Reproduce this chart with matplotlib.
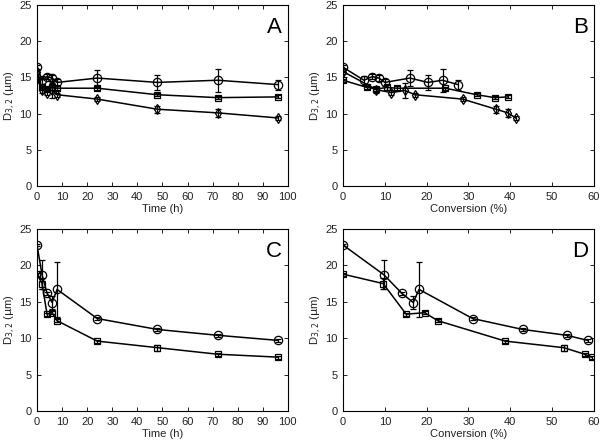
import numpy as np
import matplotlib.pyplot as plt

plt.rcParams['font.family'] = ['Liberation Sans', 'DejaVu Sans']

# panel A / B data (three series)
t_ab = [0, 2, 4, 6, 8, 24, 48, 72, 96]
circ_ab = [16.4, 14.6, 15.1, 14.9, 14.3, 14.9, 14.3, 14.6, 14.0]
circ_ab_err = [0.3, 0.6, 0.3, 0.4, 0.5, 1.1, 1.0, 1.6, 0.7]
circ_ab_conv = [0, 5.0, 7.0, 8.6, 10.0, 16.0, 20.3, 23.8, 27.5]

sq_ab = [14.6, 13.6, 13.4, 13.6, 13.5, 13.5, 12.6, 12.2, 12.3]
sq_ab_err = [0.2, 0.2, 0.3, 0.3, 0.3, 0.2, 0.2, 0.2, 0.2]
sq_ab_conv = [0, 5.8, 8.0, 10.5, 13.0, 24.5, 32.0, 36.3, 39.5]

dia_ab = [15.8, 13.3, 12.9, 13.2, 12.6, 12.0, 10.6, 10.1, 9.4]
dia_ab_err = [0.3, 0.4, 0.3, 1.0, 0.3, 0.3, 0.5, 0.6, 0.3]
dia_ab_conv = [0, 8.0, 11.5, 14.8, 17.2, 28.6, 36.6, 39.4, 41.3]

# panel C / D data (two series)
t_cd = [0, 2, 4, 6, 8, 24, 48, 72, 96]
circ_cd = [22.8, 18.7, 16.2, 14.9, 16.7, 12.7, 11.2, 10.4, 9.7]
circ_cd_err = [0.2, 2.0, 0.2, 0.9, 3.8, 0.2, 0.2, 0.2, 0.2]
circ_cd_conv = [0, 9.8, 14.0, 16.8, 18.2, 31.0, 43.0, 53.5, 58.5]

sq_cd = [18.8, 17.5, 13.3, 13.5, 12.4, 9.6, 8.7, 7.8, 7.4]
sq_cd_err = [0.2, 0.7, 0.2, 0.2, 0.2, 0.2, 0.4, 0.2, 0.2]
sq_cd_conv = [0, 9.6, 15.1, 19.5, 22.7, 38.8, 52.8, 57.8, 59.5]

ylab = r'D$_{3,2}$ ($\mathrm{\mu}$m)'


def series(ax, x, y, e, m, ms):
    ax.errorbar(x, y, yerr=e, color='black', lw=1.1, marker=m, ms=ms,
                mfc='none', mec='black', mew=0.9, capsize=2, elinewidth=0.9,
                capthick=0.9)


def style(ax, xmax, xstep, xlabel, letter):
    ax.set_xlim(0, xmax)
    ax.set_ylim(0, 25)
    ax.set_xticks(np.arange(0, xmax + 1, xstep))
    ax.set_yticks(np.arange(0, 26, 5))
    ax.tick_params(direction='in', top=True, right=True, length=3,
                   labelsize=8, pad=4, width=0.7, colors='#222222')
    ax.set_xlabel(xlabel, fontsize=8, labelpad=2, color='#222222')
    ax.set_ylabel(ylab, fontsize=8, labelpad=1, color='#222222')
    for s in ax.spines.values():
        s.set_linewidth(0.8)
    ax.text(0.976, 0.876, letter, transform=ax.transAxes, ha='right',
            va='center', fontsize=16)


fig = plt.figure(figsize=(6, 4.44), dpi=100)
axA = fig.add_axes([0.0617, 0.581, 0.418, 0.408])
axB = fig.add_axes([0.5717, 0.581, 0.418, 0.408])
axC = fig.add_axes([0.0617, 0.0743, 0.418, 0.410])
axD = fig.add_axes([0.5717, 0.0743, 0.418, 0.410])

series(axA, t_ab, circ_ab, circ_ab_err, 'o', 6)
series(axA, t_ab, sq_ab, sq_ab_err, 's', 4.5)
series(axA, t_ab, dia_ab, dia_ab_err, 'd', 5.5)
style(axA, 100, 10, 'Time (h)', 'A')

series(axB, circ_ab_conv, circ_ab, circ_ab_err, 'o', 6)
series(axB, sq_ab_conv, sq_ab, sq_ab_err, 's', 4.5)
series(axB, dia_ab_conv, dia_ab, dia_ab_err, 'd', 5.5)
style(axB, 60, 10, 'Conversion (%)', 'B')

series(axC, t_cd, circ_cd, circ_cd_err, 'o', 6)
series(axC, t_cd, sq_cd, sq_cd_err, 's', 4.5)
style(axC, 100, 10, 'Time (h)', 'C')

series(axD, circ_cd_conv, circ_cd, circ_cd_err, 'o', 6)
series(axD, sq_cd_conv, sq_cd, sq_cd_err, 's', 4.5)
style(axD, 60, 10, 'Conversion (%)', 'D')

fig.savefig('out.png', dpi=100)
